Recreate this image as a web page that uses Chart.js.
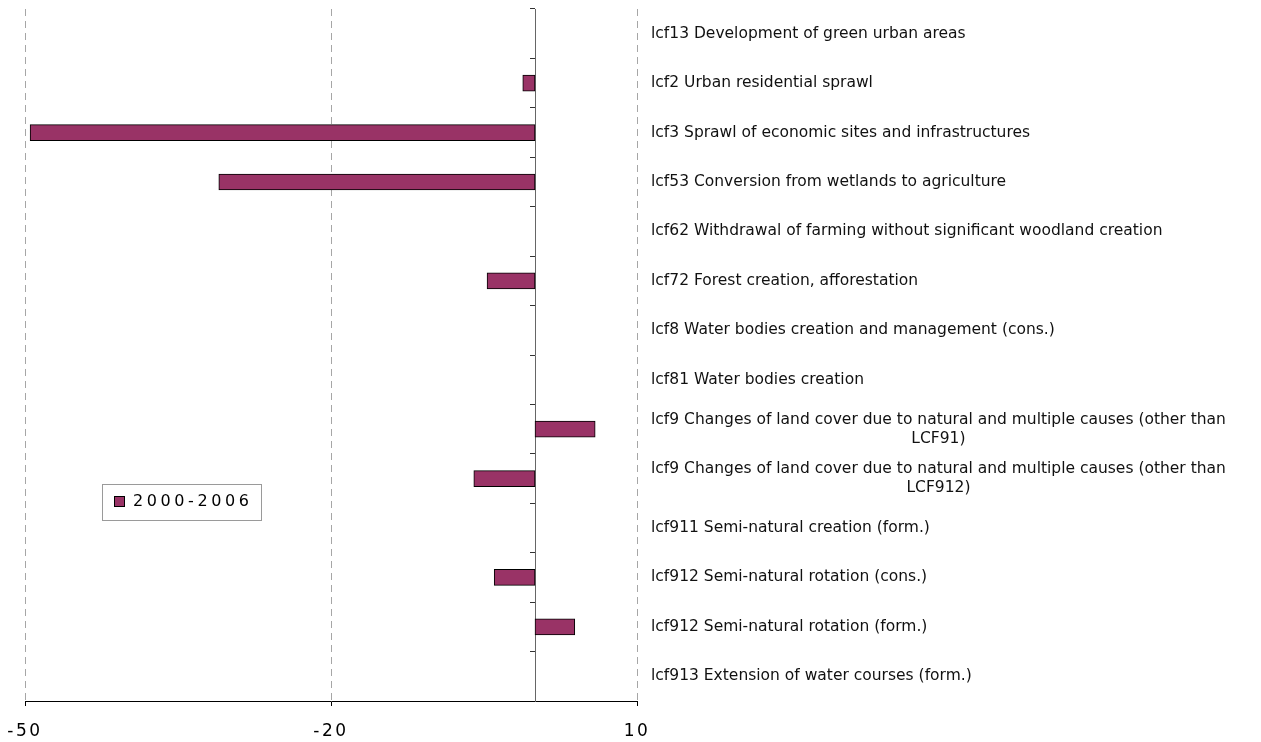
<!DOCTYPE html>
<html>
<head>
<meta charset="utf-8">
<script src="https://cdn.jsdelivr.net/npm/chart.js@4.4.1/dist/chart.umd.min.js"></script>
<style>
  html, body { margin: 0; padding: 0; background: #ffffff; }
</style>
</head>
<body>
<canvas id="chartLcf" width="1261" height="742"></canvas>
<script>
// categorias (rótulos longos quebrados em duas linhas)
var categorias = [
    'lcf13 Development of green urban areas',
    'lcf2 Urban residential sprawl',
    'lcf3 Sprawl of economic sites and infrastructures',
    'lcf53 Conversion from wetlands to agriculture',
    'lcf62 Withdrawal of farming without significant woodland creation',
    'lcf72 Forest creation, afforestation',
    'lcf8 Water bodies creation and management (cons.)',
    'lcf81 Water bodies creation',
    ['lcf9 Changes of land cover due to natural and multiple causes (other than', 'LCF91)'],
    ['lcf9 Changes of land cover due to natural and multiple causes (other than', 'LCF912)'],
    'lcf911 Semi-natural creation (form.)',
    'lcf912 Semi-natural rotation (cons.)',
    'lcf912 Semi-natural rotation (form.)',
    'lcf913 Extension of water courses (form.)'
];
var valores = [0, -1.2, -49.5, -31.0, 0, -4.7, 0, 0, 5.9, -6.0, 0, -4.0, 3.9, 0];
var serie = '2000-2006';
var ticksX = [-50, -20, 10];

var corBarra = '#993366';

// espaçamento entre letras dos números do eixo X
var espacamento = {
    id: 'espacamento',
    beforeDraw: function (chart) { chart.ctx.letterSpacing = '2.5px'; },
    beforeDatasetsDraw: function (chart) { chart.ctx.letterSpacing = '0px'; }
};

// rótulos das categorias à direita da área do gráfico
var rotulosCategoria = {
    id: 'rotulosCategoria',
    afterDraw: function (chart) {
        var ctx = chart.ctx;
        var escalaY = chart.scales.y;
        var x0 = chart.chartArea.right + 14;
        ctx.save();
        ctx.letterSpacing = '0px';
        ctx.font = '15.5px "DejaVu Sans"';
        ctx.fillStyle = '#111111';
        ctx.textBaseline = 'middle';
        ctx.textAlign = 'left';
        categorias.forEach(function (rotulo, i) {
            var linhas = Array.isArray(rotulo) ? rotulo : [rotulo];
            var larguras = linhas.map(function (l) { return ctx.measureText(l).width; });
            var maior = Math.max.apply(null, larguras);
            var yc = escalaY.getPixelForValue(i);
            linhas.forEach(function (l, j) {
                ctx.fillText(l, x0 + (maior - larguras[j]) / 2, yc + (j - (linhas.length - 1) / 2) * 19);
            });
        });
        ctx.restore();
    }
};

// legenda em caixa dentro da área do gráfico
var legendaCaixa = {
    id: 'legendaCaixa',
    afterDraw: function (chart) {
        var ctx = chart.ctx;
        var ds = chart.data.datasets[0];
        ctx.save();
        ctx.strokeStyle = '#9a9a9a';
        ctx.lineWidth = 1;
        ctx.strokeRect(102.5, 484.5, 159, 36);
        ctx.fillStyle = ds.backgroundColor;
        ctx.fillRect(114.5, 496.5, 10, 10);
        ctx.strokeStyle = '#000000';
        ctx.strokeRect(114.5, 496.5, 10, 10);
        ctx.letterSpacing = '3.6px';
        ctx.font = '16px "DejaVu Sans"';
        ctx.fillStyle = '#000000';
        ctx.textBaseline = 'middle';
        ctx.textAlign = 'left';
        ctx.fillText(ds.label, 133, 502);
        ctx.restore();
    }
};

var ctxLcf = document.getElementById('chartLcf');

new Chart(ctxLcf, {
    type: 'bar',
    data: {
        labels: categorias,
        datasets: [{
            label: serie,
            data: valores,
            backgroundColor: corBarra,
            borderColor: '#000000',
            borderWidth: 1,
            borderSkipped: false,
            barThickness: 16
        }]
    },
    options: {
        responsive: false,
        animation: false,
        indexAxis: 'y',
        layout: {
            padding: { left: 25, right: 624, top: 9, bottom: 0 }
        },
        plugins: {
            legend: { display: false },
            tooltip: { enabled: false }
        },
        scales: {
            x: {
                min: ticksX[0],
                max: ticksX[ticksX.length - 1],
                afterBuildTicks: function (scale) {
                    scale.ticks = ticksX.map(function (v) { return { value: v }; });
                },
                afterFit: function (scale) {
                    scale.height = 41;
                    scale.paddingLeft = 0;
                    scale.paddingRight = 0;
                },
                grid: {
                    color: '#a6a6a6',
                    lineWidth: 1,
                    tickColor: '#000000',
                    tickLength: 5
                },
                border: { color: '#000000', width: 1, dash: [7, 5] },
                ticks: {
                    color: '#000000',
                    padding: 15,
                    font: { family: 'DejaVu Sans', size: 17 }
                }
            },
            y: {
                position: { x: 0 },
                grid: {
                    offset: true,
                    drawOnChartArea: false,
                    tickLength: 5,
                    tickColor: '#333333'
                },
                border: { color: '#666666', width: 1 },
                ticks: { display: false }
            }
        }
    },
    plugins: [espacamento, rotulosCategoria, legendaCaixa]
});
</script>
</body>
</html>
